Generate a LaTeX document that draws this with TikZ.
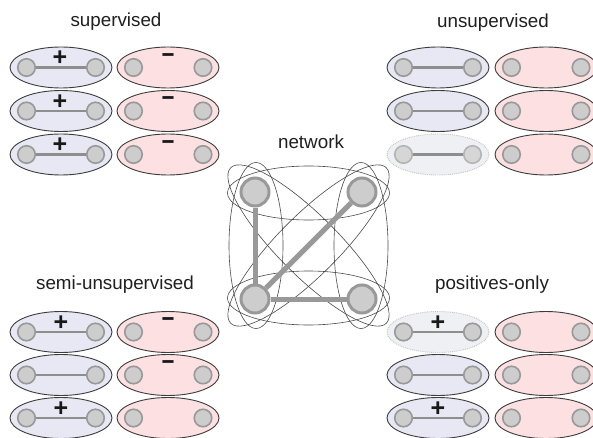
\documentclass[tikz,border=0pt]{standalone}
\usepackage{fontspec}
\usepackage{graphicx}
\setmainfont{Liberation Sans}
\usetikzlibrary{shapes.geometric}
\definecolor{bluefill}{HTML}{E8E8F4}
\definecolor{redfill}{HTML}{FDE0E2}
\definecolor{fadefill}{HTML}{EEF0F3}
\definecolor{fadeborder}{HTML}{C4C4C4}
\definecolor{ellborder}{HTML}{3C3C3C}
\definecolor{nodefill}{HTML}{CDCDCD}
\definecolor{nodeborder}{HTML}{999999}
\definecolor{fadenodefill}{HTML}{D6D6D6}
\definecolor{fadenodeborder}{HTML}{B4B4B4}
\definecolor{edgecol}{HTML}{8E8E8E}
\definecolor{netline}{HTML}{4A4A4A}
\tikzset{
  pairell/.style={ellipse, draw=ellborder, line width=0.9pt, minimum width=102pt, minimum height=41pt, inner sep=0pt},
  bluepair/.style={pairell, fill=bluefill},
  redpair/.style={pairell, fill=redfill},
  fadedpair/.style={pairell, fill=fadefill, draw=fadeborder, densely dotted},
  dot/.style={circle, fill=nodefill, draw=nodeborder, line width=1.6pt, minimum size=17.5pt, inner sep=0pt},
  fadeddot/.style={dot, fill=fadenodefill, draw=fadenodeborder},
  pairedge/.style={draw=edgecol, line width=2.2pt},
  signtext/.style={font=\bfseries\fontsize{25}{25}\selectfont, inner sep=0pt, text=black!90},
  minustext/.style={font=\bfseries\fontsize{28}{28}\selectfont, inner sep=0pt, text=black!90},
  title/.style={font=\fontsize{18.8}{22}\selectfont, text=black!88, inner sep=0pt},
  netnode/.style={circle, fill=nodefill, draw=nodeborder, line width=3pt, minimum size=28pt, inner sep=0pt},
  netedge/.style={draw=nodeborder, line width=5pt},
  netell/.style={draw=netline, line width=0.6pt}
}
% blue pair: name, x, y, ellipse style, dot style
\newcommand{\bluepairat}[5]{%
  \node[#4] (#1) at (#2,#3) {};
  \node[#5] (#1a) at (#2-34.5,#3) {};
  \node[#5] (#1b) at (#2+34.5,#3) {};
  \draw[pairedge] (#1a) -- (#1b);
}
% red pair: name, x, y
\newcommand{\redpairat}[3]{%
  \node[redpair] (#1) at (#2,#3) {};
  \node[dot] (#1a) at (#2-34.5,#3) {};
  \node[dot] (#1b) at (#2+35,#3) {};
}
\newcommand{\plusat}[3]{\node[signtext] (#1) at (#2,#3-9) {+};}
\newcommand{\minusat}[3]{\node[minustext] (#1) at (#2,#3-9.5) {\scalebox{0.8}[1]{–}};}
\begin{document}
\begin{tikzpicture}[x=1pt, y=-1pt]
\useasboundingbox (0,0) rectangle (593,438);
\clip (0,0) rectangle (593,438);
\fill[white] (0,0) rectangle (593,438);

% ---------- supervised ----------
\node[title] (tsup) at (116,22) {supervised};
\bluepairat{s1}{61}{67.5}{bluepair}{dot}
\bluepairat{s2}{61}{111}{bluepair}{dot}
\bluepairat{s3}{61}{154.5}{bluepair}{dot}
\redpairat{sr1}{168}{67.5}
\redpairat{sr2}{168}{111}
\redpairat{sr3}{168}{154.5}
\plusat{sp1}{60}{67.5}
\plusat{sp2}{60}{111}
\plusat{sp3}{60}{154.5}
\minusat{sm1}{168}{67.5}
\minusat{sm2}{168}{111}
\minusat{sm3}{168}{154.5}

% ---------- unsupervised ----------
\node[title] (tuns) at (493,23) {unsupervised};
\bluepairat{u1}{438}{67.5}{bluepair}{dot}
\bluepairat{u2}{438}{111}{bluepair}{dot}
\bluepairat{u3}{438}{154.5}{fadedpair}{fadeddot}
\redpairat{ur1}{546}{67.5}
\redpairat{ur2}{546}{111}
\redpairat{ur3}{546}{154.5}

% ---------- semi-unsupervised ----------
\node[title] (tsemi) at (115,285) {semi-unsupervised};
\bluepairat{m1}{61}{332}{bluepair}{dot}
\bluepairat{m2}{61}{375}{bluepair}{dot}
\bluepairat{m3}{61}{418}{bluepair}{dot}
\redpairat{mr1}{168}{332}
\redpairat{mr2}{168}{375}
\redpairat{mr3}{168}{418}
\plusat{mp1}{61}{332}
\plusat{mp3}{61}{418}
\minusat{mm1}{168}{332}
\minusat{mm2}{168}{375}

% ---------- positives-only ----------
\node[title] (tpos) at (492,285) {positives-only};
\bluepairat{p1}{438}{332}{fadedpair}{dot}
\bluepairat{p2}{438}{375}{bluepair}{dot}
\bluepairat{p3}{438}{418}{bluepair}{dot}
\redpairat{pr1}{546}{332}
\redpairat{pr2}{546}{375}
\redpairat{pr3}{546}{418}
\plusat{pp1}{438}{332}
\plusat{pp3}{438}{418}

% ---------- network ----------
\node[title] (tnet) at (311,142) {network};
\coordinate (nc) at (308.5,245.5);
\draw[netell] (308.5,193) ellipse [x radius=81pt, y radius=27pt];
\draw[netell] (308.5,298) ellipse [x radius=81pt, y radius=27pt];
\draw[netell] (256,245.5) ellipse [x radius=27pt, y radius=83pt];
\draw[netell] (361,245.5) ellipse [x radius=27pt, y radius=83pt];
\draw[netell, rotate around={45:(nc)}] (nc) ellipse [x radius=110pt, y radius=30pt];
\draw[netell, rotate around={-45:(nc)}] (nc) ellipse [x radius=110pt, y radius=30pt];
\node[netnode] (ntl) at (255,192) {};
\node[netnode] (ntr) at (362,192) {};
\node[netnode] (nbl) at (255,299) {};
\node[netnode] (nbr) at (362,299) {};
\draw[netedge] (ntl) -- (nbl);
\draw[netedge] (nbl) -- (nbr);
\draw[netedge] (nbl) -- (ntr);
\end{tikzpicture}
\end{document}
